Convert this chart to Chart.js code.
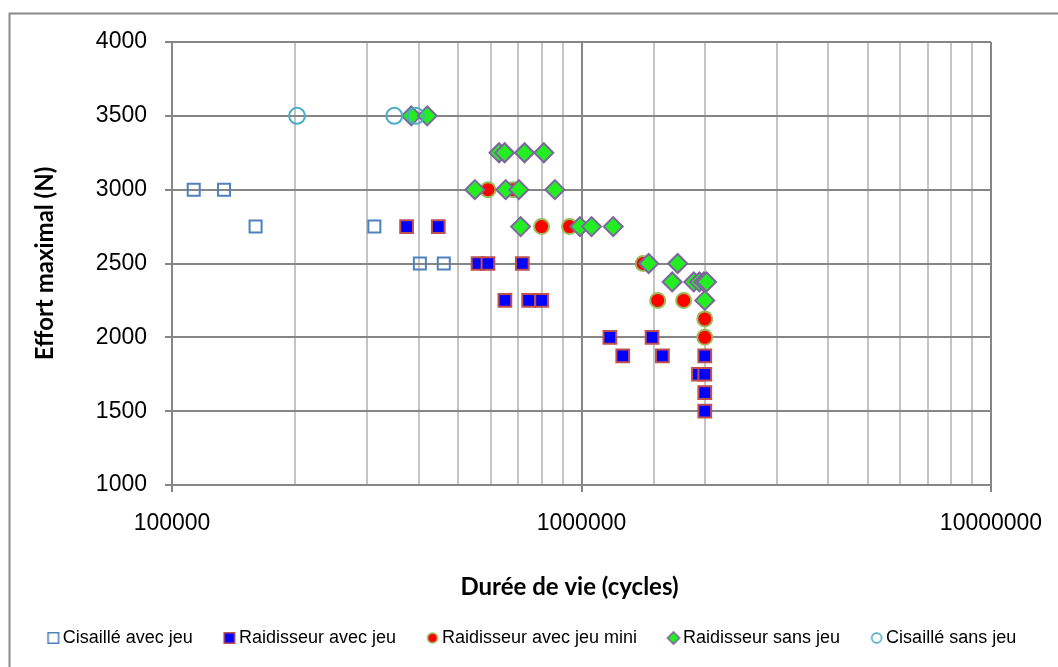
<!DOCTYPE html>
<html>
<head>
<meta charset="utf-8">
<script src="https://cdn.jsdelivr.net/npm/chart.js@4.4.0/dist/chart.umd.min.js"></script>
<style>
  html, body { margin: 0; padding: 0; background: #fff; }
  #wrap { position: relative; width: 1058px; height: 667px; }
</style>
</head>
<body>
<div id="wrap"><canvas id="graphe"></canvas></div>
<script>
// Cisaillé avec jeu
const cisAvecX = [113000, 134000, 160000, 312000, 403000, 461000];
const cisAvecY = [3000, 3000, 2750, 2750, 2500, 2500];

// Raidisseur avec jeu
const raidAvecX = [374000, 447000, 559000, 591000, 717000, 650000, 743000, 799000,
                   1173000, 1487000, 1261000, 1576000, 2000000, 1930000, 2000000, 2000000, 2000000];
const raidAvecY = [2750, 2750, 2500, 2500, 2500, 2250, 2250, 2250,
                   2000, 2000, 1875, 1875, 1875, 1750, 1750, 1625, 1500];

// Raidisseur avec jeu mini
const raidMiniX = [591000, 681000, 799000, 935000, 1414000, 1535000, 1776000, 2000000, 2000000];
const raidMiniY = [3000, 3000, 2750, 2750, 2500, 2250, 2250, 2125, 2000];

// Raidisseur sans jeu
const raidSansX = [384000, 420000, 629000, 649000, 726000, 809000, 549000, 653000, 703000, 861000,
                   710000, 991000, 1058000, 1195000, 1459000, 1717000,
                   1665000, 1880000, 1940000, 1990000, 2020000, 2000000];
const raidSansY = [3500, 3500, 3250, 3250, 3250, 3250, 3000, 3000, 3000, 3000,
                   2750, 2750, 2750, 2750, 2500, 2500,
                   2375, 2375, 2375, 2375, 2375, 2250];

// Cisaillé sans jeu
const cisSansX = [202000, 349000, 394000];
const cisSansY = [3500, 3500, 3500];

const yTicks = [1000, 1500, 2000, 2500, 3000, 3500, 4000];

const pts = (xs, ys) => xs.map((x, i) => ({ x: x, y: ys[i] }));
const estMajeur = v => Math.abs(Math.log10(v) - Math.round(Math.log10(v))) < 1e-9;

// petits marqueurs pour la légende
function marqueur(type, fill, stroke) {
    const c = document.createElement('canvas');
    c.width = 16; c.height = 16;
    const g = c.getContext('2d');
    g.lineWidth = 1.6;
    g.strokeStyle = stroke;
    g.fillStyle = fill || 'rgba(0,0,0,0)';
    g.beginPath();
    if (type === 'rect') g.rect(2.7, 2.7, 10.6, 10.6);
    else if (type === 'circle') g.arc(8, 8, 4.9, 0, Math.PI * 2);
    else { g.moveTo(8, 2); g.lineTo(14, 8); g.lineTo(8, 14); g.lineTo(2, 8); g.closePath(); }
    if (fill) g.fill();
    g.stroke();
    return c;
}

const icones = [
    marqueur('rect', null, '#4F81BD'),
    marqueur('rect', '#0000FF', '#C0504D'),
    marqueur('circle', '#FF0000', '#9BBB59'),
    marqueur('diamond', '#22EE22', '#8064A2'),
    marqueur('circle', null, '#4BACC6')
];

// cadre gris du graphique
const cadre = {
    id: 'cadre',
    beforeDraw(chart) {
        const g = chart.ctx;
        g.save();
        g.fillStyle = '#fff';
        g.fillRect(0, 0, chart.width, chart.height);
        g.strokeStyle = '#8a8a8a';
        g.lineWidth = 2;
        g.strokeRect(9.5, 13.5, chart.width + 20, chart.height + 20);
        g.restore();
    }
};

const ctx = document.getElementById('graphe').getContext('2d');
const graphe = new Chart(ctx, {
    type: 'scatter',
    data: {
        datasets: [
            {
                label: 'Cisaillé avec jeu',
                data: pts(cisAvecX, cisAvecY),
                pointStyle: 'rect', pointRadius: 8.5, pointHoverRadius: 8.5,
                borderWidth: 2, borderColor: '#4F81BD', backgroundColor: 'rgba(0,0,0,0)',
                order: 5
            },
            {
                label: 'Raidisseur avec jeu',
                data: pts(raidAvecX, raidAvecY),
                pointStyle: 'rect', pointRadius: 9, pointHoverRadius: 9,
                borderWidth: 2, borderColor: '#C0504D', backgroundColor: '#0000FF',
                order: 4
            },
            {
                label: 'Raidisseur avec jeu mini',
                data: pts(raidMiniX, raidMiniY),
                pointStyle: 'circle', pointRadius: 7.5, pointHoverRadius: 7.5,
                borderWidth: 2, borderColor: '#9BBB59', backgroundColor: '#FF0000',
                order: 3
            },
            {
                label: 'Raidisseur sans jeu',
                data: pts(raidSansX, raidSansY),
                pointStyle: 'rectRot', pointRadius: 9.5, pointHoverRadius: 9.5,
                borderWidth: 2, borderColor: '#8064A2', backgroundColor: '#22EE22',
                order: 2
            },
            {
                label: 'Cisaillé sans jeu',
                data: pts(cisSansX, cisSansY),
                pointStyle: 'circle', pointRadius: 8, pointHoverRadius: 8,
                borderWidth: 2, borderColor: '#4BACC6', backgroundColor: 'rgba(0,0,0,0)',
                order: 1
            }
        ]
    },
    options: {
        responsive: true,
        maintainAspectRatio: false,
        animation: false,
        layout: { padding: { left: 11, right: 0, top: 42, bottom: 10 } },
        plugins: {
            tooltip: { enabled: false },
            legend: {
                position: 'bottom',
                labels: {
                    usePointStyle: true,
                    boxWidth: 1,
                    boxHeight: 12,
                    padding: 36,
                    color: '#000',
                    font: { family: 'Liberation Sans', size: 18 },
                    generateLabels: chart => chart.data.datasets.map((ds, i) => ({
                        text: ds.label,
                        pointStyle: icones[i],
                        fillStyle: 'rgba(0,0,0,0)',
                        strokeStyle: 'rgba(0,0,0,0)',
                        lineWidth: 0,
                        fontColor: '#000',
                        hidden: false,
                        datasetIndex: i
                    }))
                }
            }
        },
        scales: {
            x: {
                type: 'logarithmic',
                min: 100000,
                max: 10000000,
                afterFit: s => { s.height = 108; s.paddingRight = 67; },
                border: { display: true, color: '#868686', width: 2 },
                grid: {
                    color: c => (c.tick && estMajeur(c.tick.value)) ? '#868686' : '#c4c4c4',
                    lineWidth: 2,
                    tickLength: 7,
                    tickColor: c => (c.tick && estMajeur(c.tick.value)) ? '#868686' : 'rgba(0,0,0,0)'
                },
                ticks: {
                    autoSkip: false,
                    maxRotation: 0,
                    padding: 18,
                    color: '#000',
                    font: { family: 'Liberation Sans', size: 23 },
                    callback: v => estMajeur(v) ? String(Math.round(v)) : ''
                },
                title: {
                    display: true,
                    text: 'Durée de vie (cycles)\u2002\u2002',
                    color: '#000',
                    font: { family: 'Lato', weight: 'bold', size: 24 },
                    padding: { top: 0, bottom: -9 }
                }
            },
            y: {
                min: 1000,
                max: 4000,
                afterFit: s => { s.width = 161; },
                afterBuildTicks: s => { s.ticks = yTicks.map(v => ({ value: v })); },
                border: { display: true, color: '#868686', width: 2 },
                grid: { color: '#868686', lineWidth: 2, tickLength: 7, tickColor: '#868686' },
                ticks: {
                    padding: 18,
                    color: '#000',
                    font: { family: 'Liberation Sans', size: 23 },
                    callback: v => String(v)
                },
                title: {
                    display: true,
                    text: 'Effort maximal (N)',
                    color: '#000',
                    font: { family: 'Lato', weight: 'bold', size: 24 },
                    padding: { top: 20, bottom: 0 }
                }
            }
        }
    },
    plugins: [cadre]
});
</script>
</body>
</html>
